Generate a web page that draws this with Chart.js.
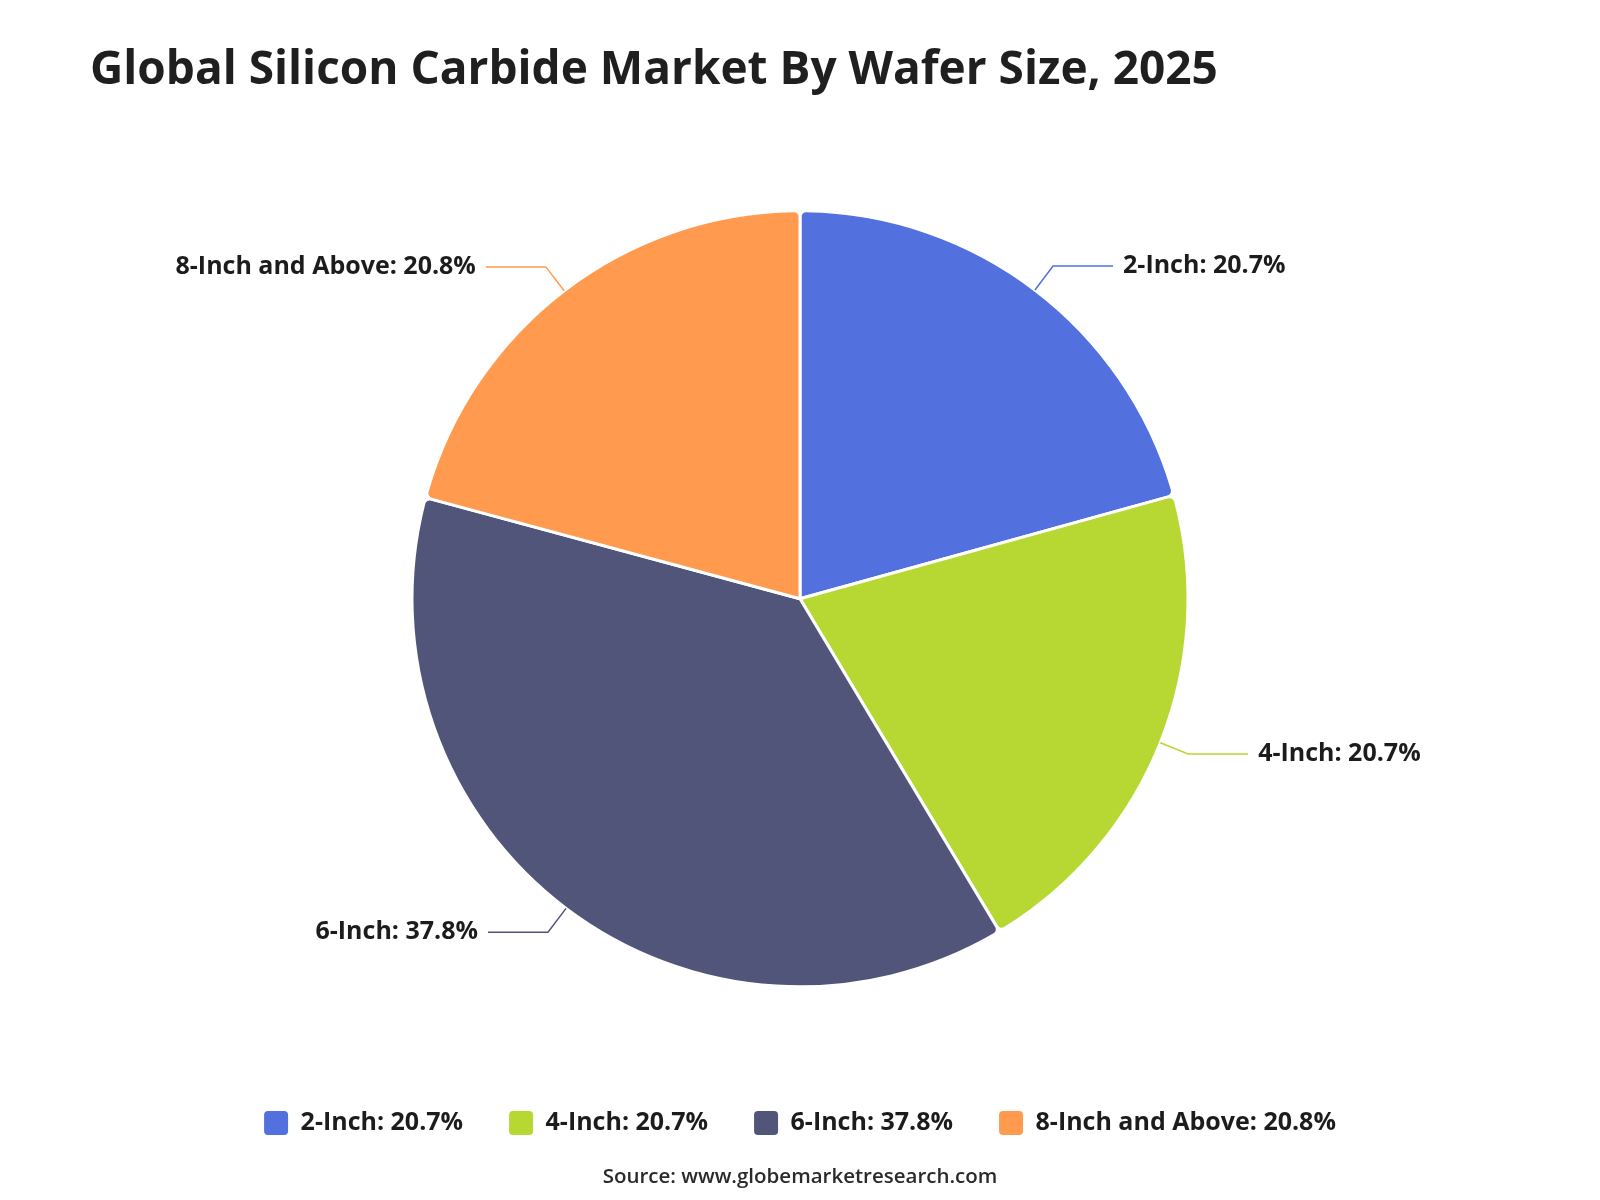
<!DOCTYPE html>
<html>
<head>
<meta charset="utf-8">
<title>Global Silicon Carbide Market By Wafer Size, 2025</title>
<script src="https://cdn.jsdelivr.net/npm/chart.js@4.4.1/dist/chart.umd.min.js"></script>
<style>
  html, body { margin: 0; padding: 0; background: #fff; }
  #wrap { width: 1600px; height: 1200px; }
</style>
</head>
<body>
<div id="wrap"><canvas id="waferChart" width="1600" height="1200"></canvas></div>
<script>
const categories = ['2-Inch', '4-Inch', '6-Inch', '8-Inch and Above'];
const shares = [20.7, 20.7, 37.8, 20.8];
const sliceColors = ['#5271DF', '#B7D833', '#52557A', '#FF9A4F'];

const FONT = "'Open Sans', 'Noto Sans', sans-serif";
const labelText = (i) => categories[i] + ': ' + shares[i] + '%';

// leader lines + outside labels
const outsideLabels = {
  id: 'outsideLabels',
  afterDatasetsDraw(chart) {
    const { ctx } = chart;
    const meta = chart.getDatasetMeta(0);
    ctx.save();
    ctx.font = 'bold 25px ' + FONT;
    ctx.textBaseline = 'middle';
    meta.data.forEach((arc, i) => {
      const { x, y, startAngle, endAngle, outerRadius } = arc.getProps(
        ['x', 'y', 'startAngle', 'endAngle', 'outerRadius'], true);
      const mid = (startAngle + endAngle) / 2;
      const cos = Math.cos(mid);
      const sin = Math.sin(mid);
      const x0 = x + cos * outerRadius;
      const y0 = y + sin * outerRadius;
      const x1 = x + cos * (outerRadius + 30);
      const y1 = y + sin * (outerRadius + 30);
      const right = cos >= 0;
      const x2 = x1 + (right ? 60 : -60);

      ctx.strokeStyle = sliceColors[i];
      ctx.lineWidth = 1.5;
      ctx.beginPath();
      ctx.moveTo(x0, y0);
      ctx.lineTo(x1, y1);
      ctx.lineTo(x2, y1);
      ctx.stroke();

      ctx.fillStyle = '#1c1c1c';
      ctx.textAlign = right ? 'left' : 'right';
      ctx.fillText(labelText(i), x2 + (right ? 10 : -10), y1);
    });
    ctx.restore();
  }
};

const ctx = document.getElementById('waferChart').getContext('2d');
new Chart(ctx, {
  type: 'pie',
  data: {
    labels: categories,
    datasets: [{
      data: shares,
      backgroundColor: sliceColors,
      borderColor: '#ffffff',
      borderWidth: 3,
      borderRadius: 6,
      radius: 388,
    }],
  },
  options: {
    responsive: false,
    animation: false,
    layout: { padding: { left: 90, right: 90, top: 0, bottom: 0 } },
    plugins: {
      title: {
        display: true,
        text: 'Global Silicon Carbide Market By Wafer Size, 2025',
        align: 'start',
        color: '#1f1f1f',
        font: { family: FONT, size: 46, weight: 'bold', lineHeight: 1.2 },
        padding: { top: 43, bottom: 35 },
      },
      subtitle: {
        display: true,
        position: 'bottom',
        text: 'Source: www.globemarketresearch.com',
        color: '#2a2a2a',
        font: { family: FONT, size: 20.5, weight: '600', lineHeight: 1.2 },
        padding: { top: 19, bottom: 11 },
      },
      legend: {
        position: 'bottom',
        labels: {
          color: '#1c1c1c',
          font: { family: FONT, size: 25, weight: 'bold' },
          boxWidth: 24,
          boxHeight: 24,
          useBorderRadius: true,
          borderRadius: 4,
          padding: 46,
          generateLabels: (chart) =>
            Chart.overrides.pie.plugins.legend.labels.generateLabels(chart).map((item, i) => ({
              ...item,
              text: labelText(i),
              lineWidth: 0,
              strokeStyle: 'rgba(0,0,0,0)',
            })),
        },
      },
      tooltip: { enabled: false },
    },
  },
  plugins: [outsideLabels],
});
</script>
</body>
</html>
